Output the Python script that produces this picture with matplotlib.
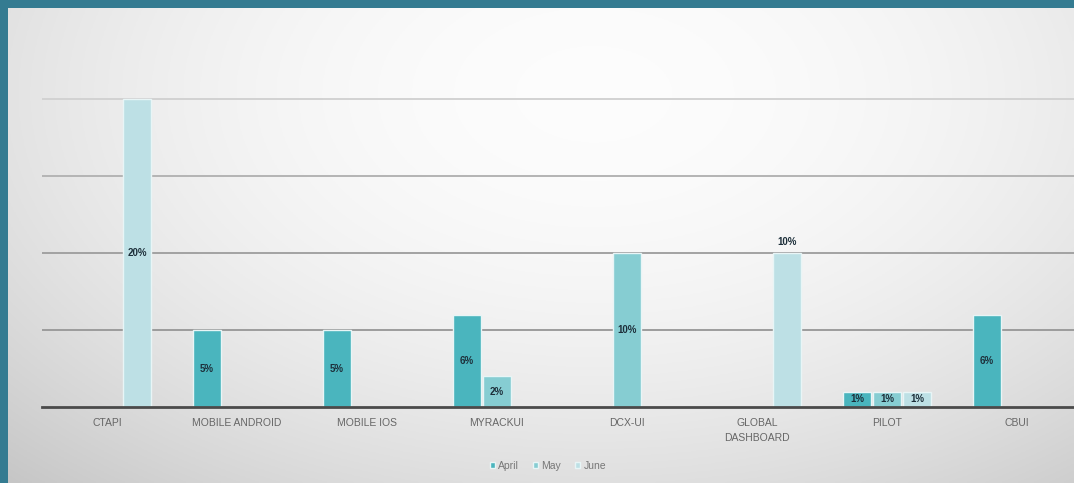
import numpy as np
import matplotlib
matplotlib.use("Agg")
from matplotlib import pyplot as plt

plt.rcParams['font.family'] = ['Liberation Sans', 'DejaVu Sans']

categories = ["CTAPI", "MOBILE ANDROID", "MOBILE IOS", "MYRACKUI", "DCX-UI",
              "GLOBAL\nDASHBOARD", "PILOT", "CBUI"]
april = [0, 5, 5, 6, 0, 0, 1, 6]
may = [0, 0, 0, 2, 10, 0, 1, 0]
june = [20, 0, 0, 0, 0, 10, 1, 0]
series = [("April", april, "#4ab5be"), ("May", may, "#86cdd2"), ("June", june, "#bde0e5")]
# labels drawn above the bar instead of inside it
outside = {("June", 5)}
grid_levels = [5, 10, 15, 20]
grid_colors = ["#9c9c9c", "#a2a2a2", "#b4b4b4", "#d2d2d2"]

W, H = 1074, 483
fig = plt.figure(figsize=(W / 100, H / 100), dpi=100)
fig.patch.set_facecolor("#347b91")

# light panel with a soft gradient, bright near the top middle
bg = fig.add_axes([8 / W, 0, 1 - 8 / W, 1 - 8 / H])
yy, xx = np.mgrid[0:1:200j, 0:1:400j]
v = 1.0 - 0.10 * ((xx - 0.55) / 0.55) ** 2 - 0.11 * ((yy - 0.18) / 0.8) ** 2
v = np.clip(v, 0, 1)
bg.imshow(np.dstack([v, v, v]) * 0.99, aspect="auto", extent=[0, 1, 1, 0])
bg.set_axis_off()

ax = fig.add_axes([42 / W, (H - 407) / H, (W - 42) / W, (407 - 22) / H])
ax.patch.set_alpha(0)
for lvl, c in zip(grid_levels, grid_colors):
    ax.axhline(lvl, color=c, linewidth=1.4, zorder=0)

x = np.arange(len(categories))
step = 0.23
width = 0.21
for i, (name, vals, color) in enumerate(series):
    pos = x + (i - 1) * step
    bars = ax.bar(pos, vals, width, color=color, edgecolor="#e8f5f6", linewidth=1.0,
                  label=name, zorder=3)
    for j, (b, val) in enumerate(zip(bars, vals)):
        if val == 0:
            continue
        if (name, j) in outside:
            ty, va = val + 0.4, "bottom"
        else:
            ty, va = val / 2, "center"
        ax.text(b.get_x() + b.get_width() / 2, ty, f"{val}%", ha="center", va=va,
                fontsize=7, fontweight="bold", color="#1d2f3a", zorder=4)

ax.set_xlim(-0.5, (W - 107) / 130)
ax.set_ylim(0, 25)
ax.set_yticks([])
ax.set_xticks(x)
ax.set_xticklabels(categories, fontsize=7.5, color="#666666", linespacing=1.6)
ax.tick_params(axis="x", length=0, pad=8)
for s in ["top", "right", "left"]:
    ax.spines[s].set_visible(False)
ax.spines["bottom"].set_color("#4a4a4a")
ax.spines["bottom"].set_linewidth(2)
ax.spines["bottom"].set_zorder(5)

leg = fig.legend(loc="center", bbox_to_anchor=(548 / W, 1 - 466 / H), ncol=3,
                 frameon=False, fontsize=7.5, handlelength=0.45, handleheight=0.45,
                 handletextpad=0.3, columnspacing=1.4)
for t in leg.get_texts():
    t.set_color("#777777")

fig.savefig("out.png", dpi=100, facecolor=fig.get_facecolor())
